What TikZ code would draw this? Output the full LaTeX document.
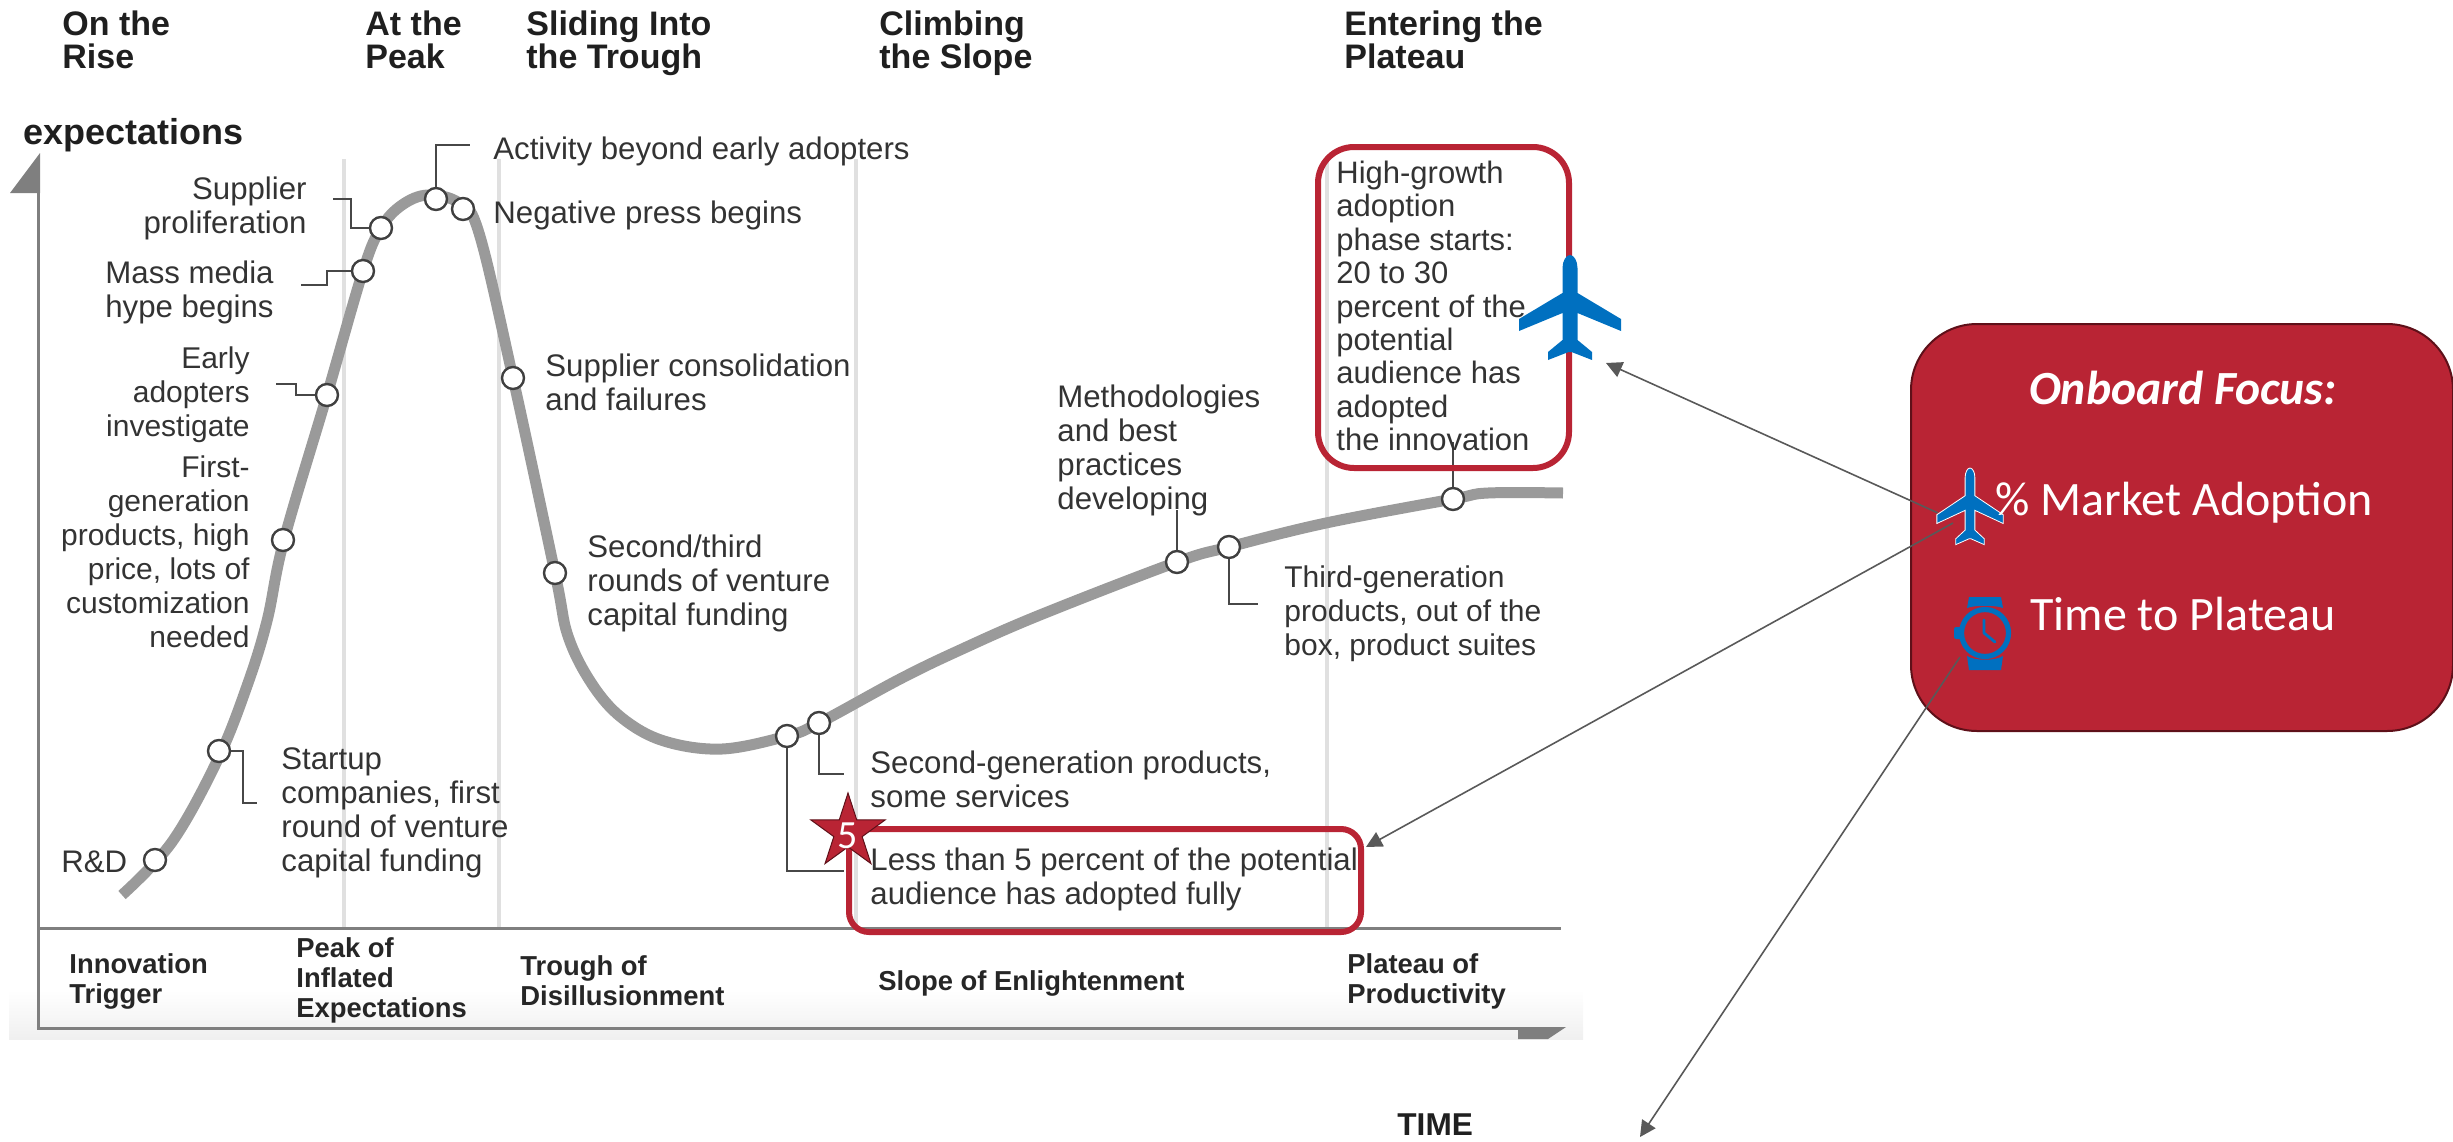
\documentclass[tikz,border=0pt]{standalone}
\usepackage{fontspec}
\setmainfont{Liberation Sans}
\newfontfamily\carlito{Carlito}
\usetikzlibrary{arrows.meta,shapes.geometric,calc}
\definecolor{crimson}{HTML}{B92434}
\definecolor{darkcrimson}{HTML}{5E1019}
\definecolor{planeblue}{HTML}{0070C0}
\definecolor{curvegrey}{HTML}{9A9A9A}
\definecolor{axisgrey}{HTML}{7F7F7F}
\definecolor{gridgrey}{HTML}{E0E0E0}
\definecolor{lblcol}{HTML}{333333}
\definecolor{arrowgrey}{HTML}{595959}
\tikzset{
  lbl/.style={inner sep=0pt,text=lblcol,font=\fontsize{15.6}{17}\selectfont},
  lblsmall/.style={font=\fontsize{15}{17}\selectfont},
  lblL/.style={lbl,anchor=west,align=left},
  lblR/.style={lbl,anchor=east,align=right},
  head/.style={inner sep=0pt,anchor=west,align=left,text=black!88,font=\fontsize{17}{16.6}\selectfont\bfseries},
  phase/.style={inner sep=0pt,anchor=west,align=left,text=black!85,font=\fontsize{13.7}{15}\selectfont\bfseries},
  dot/.style={circle,draw=black!75,line width=1.2pt,fill=white,minimum size=11pt,inner sep=0pt},
  leader/.style={draw=black!72,line width=1.2pt},
  gridline/.style={draw=gridgrey,line width=2pt},
  axisline/.style={draw=axisgrey,line width=1.5pt},
  redbox/.style={draw=crimson,line width=3pt,rounded corners=#1,inner sep=0pt},
  callout/.style={draw=arrowgrey,line width=0.8pt,-{Triangle[length=8pt,width=8pt,fill=arrowgrey]}},
  whitetxt/.style={inner sep=0pt,text=white},
  planeshape/.pic={
    \path[pic actions]
      (0,0) .. controls (4,0) and (7.5,6) .. (7.5,13) -- (7.5,38) -- (51,64) -- (51,76) -- (7.5,58)
      -- (7.5,85) -- (22,97) -- (22,105) -- (1.5,97) -- (-1.5,97) -- (-22,105) -- (-22,97) -- (-7.5,85)
      -- (-7.5,58) -- (-51,76) -- (-51,64) -- (-7.5,38) -- (-7.5,13) .. controls (-7.5,6) and (-4,0) .. (0,0) -- cycle;
  }
}
\begin{document}
\begin{tikzpicture}[x=0.5pt,y=-0.5pt]
\useasboundingbox (0,0) rectangle (2453,1141);
% panel fade
\shade[top color=white,bottom color=black!6,draw=none] (9,990) rectangle (1583,1039);
% grid lines
\foreach \gx in {344,499,856,1327}{\draw[gridline] (\gx,159) -- (\gx,928);}
% axes
\draw[axisline] (38,193) -- (38,1028) -- (1520,1028);
\draw[axisline] (38,928) -- (1561,928);
\fill[axisgrey] (40,153) -- (40,193) -- (10,193) -- cycle;
\fill[axisgrey] (1518,1027) -- (1566,1027) -- (1548,1039) -- (1518,1039) -- cycle;
% curve
\draw[draw=curvegrey,line width=5.5pt] plot[smooth,tension=0.6] coordinates {
 (122,895) (172,842) (218,759) (247,686) (267,621) (284,540) (327,395) (363,271) (381,228)
 (402,205) (428,195) (459,203) (479,233) (513,378) (555,573) (568,636) (592,684) (622,718) (664,741)
 (722,749) (787,736) (819,723) (900,679) (960,650) (1040,615) (1177,562) (1229,547) (1326,523)
 (1453,499) (1488,493) (1563,493)};
% free ends of leaders
\coordinate (lA) at (470,145);
\coordinate (lB) at (333,199);
\coordinate (lC) at (301,285);
\coordinate (lD) at (276,384);
\coordinate (lE) at (257,803);
\coordinate (lF) at (844,774);
\coordinate (lG) at (844,871);
\coordinate (lH) at (1177,510);
\coordinate (lI) at (1258,604);
\coordinate (lJ) at (1453,442);
% dots
\node[dot] (dRD) at (155,860) {};
\node[dot] (dStart) at (219,751) {};
\node[dot] (dFirst) at (283,540) {};
\node[dot] (dEarly) at (327,395) {};
\node[dot] (dMass) at (363,271) {};
\node[dot] (dSupp) at (381,228) {};
\node[dot] (dAct) at (436,199) {};
\node[dot] (dNeg) at (463,209) {};
\node[dot] (dCons) at (513,378) {};
\node[dot] (dThird) at (555,573) {};
\node[dot] (dLess) at (787,736) {};
\node[dot] (dSec) at (819,723) {};
\node[dot] (dMeth) at (1177,562) {};
\node[dot] (dThirdGen) at (1229,547) {};
\node[dot] (dHigh) at (1453,499) {};
% leaders
\draw[leader] (dAct.north) |- (lA);
\draw[leader] (dSupp.west) -- (351,228) |- (lB);
\draw[leader] (dMass.west) -- (327,271) |- (lC);
\draw[leader] (dEarly.west) -- (296,395) |- (lD);
\draw[leader] (dStart.east) -- (243,751) |- (lE);
\draw[leader] (dSec.south) |- (lF);
\draw[leader] (dLess.south) |- (lG);
\draw[leader] (dMeth.north) -- (lH);
\draw[leader] (dThirdGen.south) |- (lI);
\draw[leader] (dHigh.north) -- (lJ);
% headings
\node[head] (h1) at (62,40) {On the\\Rise};
\node[head] (h2) at (365,40) {At the\\Peak};
\node[head] (h3) at (526,43) {Sliding Into\\the Trough};
\node[head] (h4) at (879,43) {Climbing\\the Slope};
\node[head] (h5) at (1344,40) {Entering the\\Plateau};
\node[inner sep=0pt,anchor=west,text=black!88,font=\fontsize{18}{20}\selectfont\bfseries] (yaxis) at (23,135) {expectations};
\node[inner sep=0pt,anchor=west,text=black!88,font=\fontsize{15.8}{17}\selectfont\bfseries] (xaxis) at (1397,1125) {TIME};
% labels
\node[lblL] (tAct) at (493,151) {Activity beyond early adopters};
\node[lblL] (tNeg) at (493,215) {Negative press begins};
\node[lblL] (tCons) at (545,382) {Supplier consolidation\\and failures};
\node[lblL] (tThird) at (587,583) {Second/third\\rounds of venture\\capital funding};
\node[lblR] (tSupp) at (307,208) {Supplier\\proliferation};
\node[lblR] (tMass) at (274,292) {Mass media\\hype begins};
\node[lblR,lblsmall] (tEarly) at (250,395) {Early\\adopters\\investigate};
\node[lblR,lblsmall] (tFirst) at (250,552) {First-\\generation\\products, high\\price, lots of\\customization\\needed};
\node[lblL] (tRD) at (61,862) {R\&D};
\node[lblL] (tStart) at (281,813) {Startup\\companies, first\\round of venture\\capital funding};
\node[lblL] (tSec) at (870,779) {Second-generation products,\\some services};
\node[lblL] (tLess) at (870,879) {Less than 5 percent of the potential\\audience has adopted fully};
\node[lblL] (tMeth) at (1057,450) {Methodologies\\and best\\practices\\developing};
\node[lblL,lblsmall] (tThirdGen) at (1284,614) {Third-generation\\products, out of the\\box, product suites};
\node[lblL,font=\fontsize{15.5}{16.7}\selectfont] (tHigh) at (1336,306) {High-growth\\adoption\\phase starts:\\20 to 30\\percent of the\\potential\\audience has\\adopted\\the innovation};
% phases
\node[phase] (p1) at (69,981) {Innovation\\Trigger};
\node[phase] (p2) at (296,980) {Peak of\\Inflated\\Expectations};
\node[phase] (p3) at (520,981) {Trough of\\Disillusionment};
\node[phase] (p4) at (878,983) {Slope of Enlightenment};
\node[phase] (p5) at (1347,981) {Plateau of\\Productivity};
% highlight boxes
\node[redbox=10pt,minimum width=256pt,minimum height=51.5pt] (lessbox) at (1105,880.5) {};
\node[redbox=18pt,minimum width=125.5pt,minimum height=160.5pt] (highbox) at (1443.5,307.5) {};
% star
\node[star,star points=5,star point ratio=2.618,draw=darkcrimson,line width=0.5pt,fill=crimson,inner sep=0pt,minimum size=39pt] (star5) at (848,832) {};
\node[whitetxt,font=\carlito\fontsize{20}{20}\selectfont] (five) at (848,836) {5};
% big plane
\pic[fill=planeblue] at (1570,255) {planeshape};
% focus panel
\node[fill=crimson,draw=darkcrimson,line width=1pt,rounded corners=33pt,minimum width=271pt,minimum height=203.5pt,inner sep=0pt] (focus) at (2182,527.5) {};
\coordinate (p1src) at (1938,513);
\coordinate (p1tip) at (1606,363);
\coordinate (p2src) at (1953,523);
\coordinate (p2tip) at (1366,847);
\coordinate (w1src) at (1960,657);
\coordinate (w1tip) at (1640,1137);
\draw[callout] (p1src) -- (p1tip);
\draw[callout] (p2src) -- (p2tip);
\draw[callout] (w1src) -- (w1tip);
% small plane
\pic[fill=planeblue,draw=white,line width=0.4pt,xscale=0.65,yscale=0.73] at (1970,468) {planeshape};
% watch
\fill[planeblue] (1969,597) -- (2001,597) -- (2003,608) .. controls (1995,605) and (1975,605) .. (1967,608) -- cycle;
\fill[planeblue] (1967,656) .. controls (1975,661) and (1995,661) .. (2003,656) -- (2001,670) -- (1969,670) -- cycle;
\fill[planeblue,rounded corners=1pt] (1954,627) rectangle (1962,639);
\draw[planeblue,line width=2.6pt] (1985,633) circle[radius=23.5];
\draw[planeblue,line width=1.4pt,line cap=round,line join=round] (1984,620) -- (1984,633) -- (1995,642);
% focus text
\node[whitetxt,font=\carlito\fontsize{23.8}{26}\selectfont\bfseries\itshape] (fTitle) at (2183,388) {Onboard Focus:};
\node[whitetxt,anchor=west,font=\carlito\fontsize{24}{26}\selectfont] (fMarket) at (1995,503) {\% Market Adoption};
\node[whitetxt,anchor=west,font=\carlito\fontsize{24}{26}\selectfont] (fTime) at (2030,614) {Time to Plateau};
\end{tikzpicture}
\end{document}
